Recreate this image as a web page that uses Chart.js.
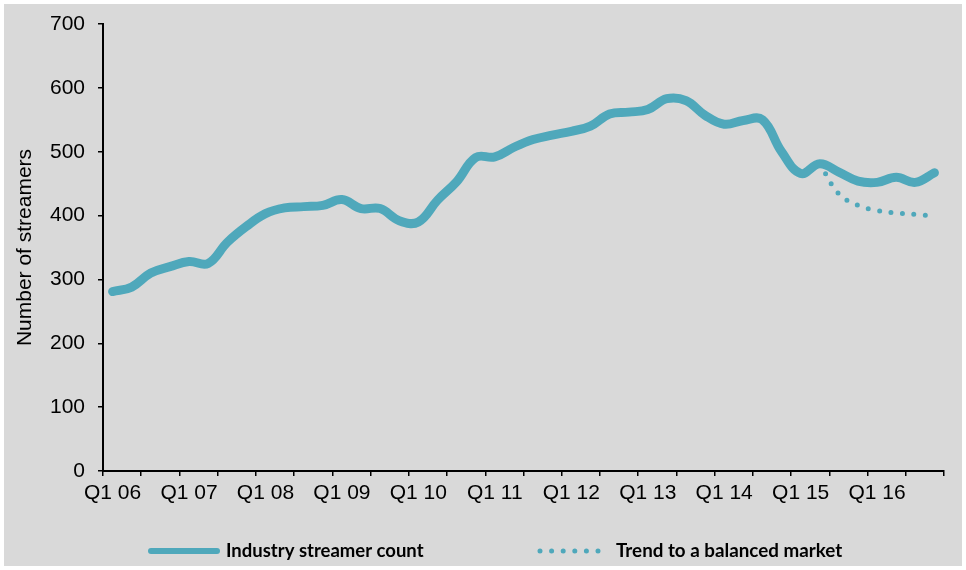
<!DOCTYPE html>
<html>
<head>
<meta charset="utf-8">
<script src="https://cdn.jsdelivr.net/npm/chart.js@4.4.1/dist/chart.umd.min.js"></script>
<style>
  body { margin: 0; background: #ffffff; }
  #marco { position: absolute; left: 4px; top: 4px; width: 958px; height: 562px; background: #d9d9d9; }
</style>
</head>
<body>
<div id="marco"><canvas id="plot1" width="958" height="562"></canvas></div>
<script>
//Etiquetas de los trimestres
let trimestres = [
  'Q1 06','Q2 06','Q3 06','Q4 06','Q1 07','Q2 07','Q3 07','Q4 07',
  'Q1 08','Q2 08','Q3 08','Q4 08','Q1 09','Q2 09','Q3 09','Q4 09',
  'Q1 10','Q2 10','Q3 10','Q4 10','Q1 11','Q2 11','Q3 11','Q4 11',
  'Q1 12','Q2 12','Q3 12','Q4 12','Q1 13','Q2 13','Q3 13','Q4 13',
  'Q1 14','Q2 14','Q3 14','Q4 14','Q1 15','Q2 15','Q3 15','Q4 15',
  'Q1 16','Q2 16','Q3 16','Q4 16'
];

//Conteo de streamers de la industria
let conteoStreamers = [
  281, 288, 310, 320, 328, 325, 358, 383,
  403, 412, 414, 416, 425, 411, 411, 392,
  390, 424, 453, 491, 492, 507, 519, 526,
  532, 540, 559, 562, 566, 583, 580, 557,
  543, 549, 550, 500, 466, 481, 468, 454,
  452, 460, 452, 467
];

//Tendencia hacia un mercado balanceado (solo desde Q2 15)
let tendencia = [
  null, null, null, null, null, null, null, null,
  null, null, null, null, null, null, null, null,
  null, null, null, null, null, null, null, null,
  null, null, null, null, null, null, null, null,
  null, null, null, null, null, 481, 434, 416,
  408, 404, 402, 399
];

//Marcas del eje Y
let ticksY = [0, 100, 200, 300, 400, 500, 600, 700];

let nombresSeries = ['Industry streamer count', 'Trend to a balanced market'];

const colorLinea = '#4fa8bb';
const fuenteEjes = 'Liberation Sans, Arial, sans-serif';

//Leyenda dibujada a mano debajo del grafico
let leyenda = {
  id: 'leyenda',
  afterDraw: (chart) => {
    let ctx = chart.ctx;
    let y = 547;
    ctx.save();
    ctx.strokeStyle = colorLinea;
    ctx.lineCap = 'round';

    //Linea continua
    ctx.lineWidth = 6;
    ctx.beginPath();
    ctx.moveTo(147, y);
    ctx.lineTo(213, y);
    ctx.stroke();

    //Linea punteada
    ctx.lineWidth = 5;
    ctx.setLineDash([0, 11.6]);
    ctx.beginPath();
    ctx.moveTo(536, y);
    ctx.lineTo(595, y);
    ctx.stroke();
    ctx.setLineDash([]);

    ctx.fillStyle = '#000000';
    ctx.font = 'bold 18.5px Lato, sans-serif';
    ctx.textBaseline = 'middle';
    ctx.fillText(nombresSeries[0], 222, y);
    ctx.font = 'bold 18.8px Lato, sans-serif';
    ctx.fillText(nombresSeries[1], 612, y);
    ctx.restore();
  }
};

let config1 = {
  type: 'line',
  data: {
    labels: trimestres,
    datasets: [
      {
        label: nombresSeries[0],
        data: conteoStreamers,
        borderColor: colorLinea,
        borderWidth: 9,
        borderCapStyle: 'round',
        borderJoinStyle: 'round',
        tension: 0.4,
        pointRadius: 0,
        fill: false
      },
      {
        label: nombresSeries[1],
        data: tendencia,
        borderColor: colorLinea,
        borderWidth: 5,
        borderCapStyle: 'round',
        borderDash: [0, 11.5],
        tension: 0.4,
        pointRadius: 0,
        fill: false
      }
    ]
  },
  options: {
    responsive: false,
    animation: false,
    layout: { padding: { left: 0, right: 18, top: 20, bottom: 56 } },
    plugins: {
      legend: { display: false },
      tooltip: { enabled: false }
    },
    scales: {
      x: {
        offset: true,
        afterFit: (scale) => { scale.height = 39; },
        grid: {
          offset: true,
          drawOnChartArea: false,
          drawTicks: true,
          tickLength: 5,
          lineWidth: 1.5,
          color: (context) => (context.index === undefined || context.index % 2 === 0) ? '#000000' : 'rgba(0,0,0,0)'
        },
        border: { display: true, color: '#000000', width: 2 },
        ticks: {
          autoSkip: false,
          maxRotation: 0,
          minRotation: 0,
          padding: 5,
          color: '#000000',
          font: { family: fuenteEjes, size: 21 },
          callback: (valor, i) => (i % 4 === 0 ? trimestres[i] : '')
        }
      },
      y: {
        min: 0,
        max: 700,
        afterFit: (scale) => {
          scale.width = 99;
          scale.paddingTop = 0;
          scale.paddingBottom = 0;
        },
        afterBuildTicks: (scale) => { scale.ticks = ticksY.map(v => ({ value: v })); },
        grid: {
          drawOnChartArea: false,
          drawTicks: true,
          tickLength: 5,
          lineWidth: 1.5,
          color: '#000000'
        },
        border: { display: true, color: '#000000', width: 2 },
        ticks: {
          padding: 13,
          color: '#000000',
          font: { family: fuenteEjes, size: 21 }
        },
        title: {
          display: true,
          text: 'Number of streamers',
          color: '#000000',
          font: { family: fuenteEjes, size: 21 },
          padding: { top: 9, bottom: 0 }
        }
      }
    }
  },
  plugins: [leyenda]
};

let plotRef1 = document.getElementById('plot1');
let chart1 = new Chart(plotRef1, config1);
</script>
</body>
</html>
